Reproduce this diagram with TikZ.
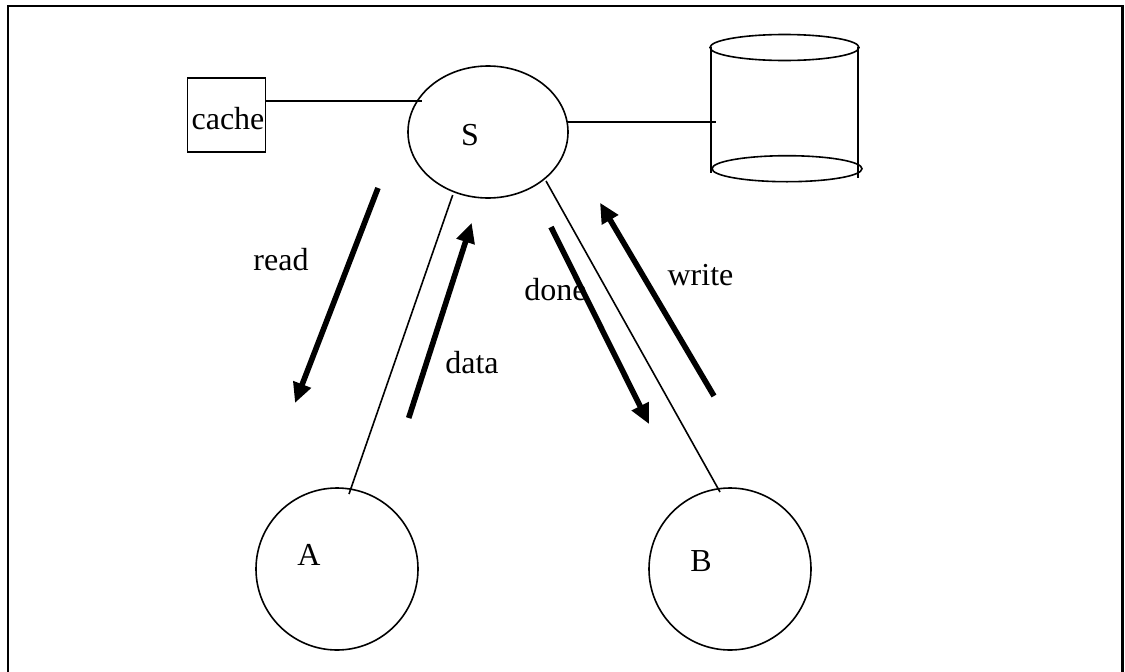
\documentclass[tikz,border=0pt]{standalone}
\usepackage{fontspec}
\setmainfont{Liberation Serif}
\usetikzlibrary{arrows.meta}
\tikzset{
  x=1pt,y=-1pt,
  thin line/.style={line width=1.6pt,draw=black},
  frame line/.style={line width=2.4pt,draw=black},
  flow/.style={line width=5.6pt,draw=black,-{Triangle[length=20pt,width=18pt]}},
  lbl/.style={font=\fontsize{32}{36}\selectfont,inner sep=0pt,text=black,anchor=base}
}
\begin{document}
\begin{tikzpicture}
\useasboundingbox (0,0) rectangle (1125,672);
\coordinate (f1) at (8,672);
\coordinate (f2) at (8,6);
\coordinate (f3) at (1122.5,6);
\coordinate (f4) at (1122.5,672);
\draw[frame line] (f1) -- (f2) -- (f3) -- (f4);
% nodes
\node[thin line,draw,rectangle,minimum width=78pt,minimum height=74pt,inner sep=0pt] (cache) at (226.5,115) {};
\node[lbl] (cachetxt) at (228,129) {cache};
\coordinate (sc) at (488,132);
\draw[thin line] (sc) ellipse [x radius=80,y radius=66];
\node[lbl] (S) at (470,145) {S};
\coordinate (ac) at (337,569);
\draw[thin line] (ac) ellipse [x radius=81,y radius=81];
\node[lbl] (A) at (309,565) {A};
\coordinate (bc) at (730,569);
\draw[thin line] (bc) ellipse [x radius=81,y radius=81];
\node[lbl] (B) at (701,571) {B};
% cylinder
\coordinate (ct) at (784.5,47.5);
\coordinate (cb) at (787,168.7);
\draw[thin line] (ct) ellipse [x radius=74.5,y radius=13];
\draw[thin line] (cb) ellipse [x radius=75,y radius=13];
\draw[thin line] (711,47) -- (711,173);
\draw[thin line] (857.7,47) -- (857.7,178);
% connectors
\coordinate (c1) at (265,101);
\coordinate (c2) at (422,101);
\draw[thin line] (c1) -- (c2);
\coordinate (d1) at (567,122);
\coordinate (d2) at (716,122);
\draw[thin line] (d1) -- (d2);
\coordinate (a1) at (349,494);
\coordinate (a2) at (452.7,195);
\draw[thin line] (a1) -- (a2);
\coordinate (b1) at (720,492);
\coordinate (b2) at (546,181);
\draw[thin line] (b1) -- (b2);
% arrows
\coordinate (r1) at (378,188);
\coordinate (r2) at (295,403);
\draw[flow] (r1) -- (r2);
\coordinate (g1) at (408.7,418);
\coordinate (g2) at (471.7,222.7);
\draw[flow] (g1) -- (g2);
\coordinate (e1) at (551,227);
\coordinate (e2) at (649,424);
\draw[flow] (e1) -- (e2);
\coordinate (w1) at (714,396);
\coordinate (w2) at (600,202.7);
\draw[flow] (w1) -- (w2);
% labels
\node[lbl] (read) at (281,270) {read};
\node[lbl] (data) at (472,373) {data};
\node[lbl] (done) at (555.5,300) {done};
\node[lbl] (write) at (700.5,285) {write};
\end{tikzpicture}
\end{document}
